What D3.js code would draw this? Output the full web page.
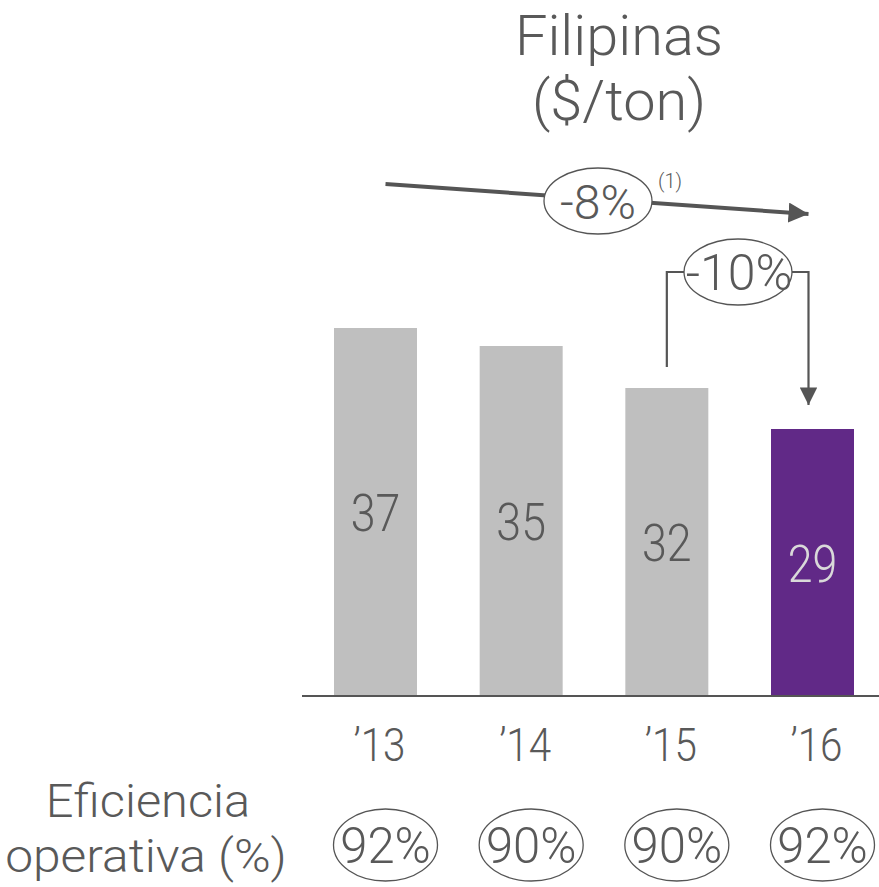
<!DOCTYPE html>
<html><head><meta charset="utf-8">
<script src="https://cdn.jsdelivr.net/npm/d3@7"></script>
<style>body{margin:0;background:#fff}svg{display:block}text{font-family:Roboto,"Open Sans",sans-serif;font-weight:300}</style>
</head><body>
<script>
const years = ["’13","’14","’15","’16"];
const barValues = [36.8, 35.0, 30.8, 26.7];
const barLabels = ["37","35","32","29"];
const efficiency = ["92%","90%","90%","92%"];
const titleLines = ["Filipinas","($/ton)"];
const changeTotal = "-8%";
const changeLast = "-10%";

const W=879,H=887, textCol="#595959", lineCol="#555555";
const svg=d3.select("body").append("svg").attr("width",W).attr("height",H);
const defs=svg.append("defs");
defs.append("marker").attr("id","ah").attr("viewBox","0 0 10 10").attr("refX",10).attr("refY",5)
 .attr("markerWidth",5).attr("markerHeight",5).attr("markerUnits","strokeWidth").attr("orient","auto")
 .append("path").attr("d","M0,0L10,5L0,10Z").attr("fill",lineCol);
defs.append("marker").attr("id","ah2").attr("viewBox","0 0 10 10").attr("refX",10).attr("refY",5)
 .attr("markerWidth",8).attr("markerHeight",8).attr("markerUnits","strokeWidth").attr("orient","auto")
 .append("path").attr("d","M0,0L10,5L0,10Z").attr("fill",lineCol);

const x=d3.scalePoint().domain(years).range([375.5,812.5]);
const y=d3.scaleLinear().domain([0,40]).range([696,296]);
const bw=83;

function txt(g,xp,yp,s,size,sx,fill,anchor){
  return g.append("text").attr("transform",`translate(${xp},${yp}) scale(${sx},1)`)
   .attr("text-anchor",anchor||"middle").attr("font-size",size).attr("fill",fill||textCol).text(s);
}

// title
txt(svg,619,55,titleLines[0],56,1.03);
txt(svg,619,120,titleLines[1],56,1.03);

// bars
years.forEach((yr,i)=>{
  const cx=x(yr);
  svg.append("rect").attr("x",cx-bw/2).attr("y",y(barValues[i])).attr("width",bw)
    .attr("height",y(0)-y(barValues[i])).attr("fill",i===3?"#612987":"#bfbfbf");
  txt(svg,cx,(y(barValues[i])+y(0))/2+19,barLabels[i],52,0.86,i===3?"#d9d9d9":textCol);
  txt(svg,cx+4,761,yr,47,0.86);
  svg.append("ellipse").attr("cx",cx+10).attr("cy",845).attr("rx",52).attr("ry",36)
    .attr("fill","none").attr("stroke",lineCol).attr("stroke-width",1.3);
  txt(svg,cx+10,863,efficiency[i],50,0.98);
});
// baseline
svg.append("line").attr("x1",302).attr("x2",W).attr("y1",y(0)).attr("y2",y(0)).attr("stroke",lineCol).attr("stroke-width",2);

// left label
txt(svg,148,817,"Eficiencia",46,1.06);
txt(svg,146,872,"operativa (%)",46,1.08);

// CAGR arrow
const ax1=x(years[0])+10, ax2=x(years[3])-4;
svg.append("line").attr("x1",ax1).attr("y1",184).attr("x2",ax2).attr("y2",214)
  .attr("stroke",lineCol).attr("stroke-width",4).attr("marker-end","url(#ah)");
svg.append("ellipse").attr("cx",598).attr("cy",201).attr("rx",54).attr("ry",33)
  .attr("fill","#fff").attr("stroke",lineCol).attr("stroke-width",1.3);
txt(svg,598,219,changeTotal,48,1);
txt(svg,670,188,"(1)",20,1);

// -10% bracket
const bx1=x(years[2]), bx2=x(years[3])-4;
svg.append("path").attr("d",`M${bx1},${y(barValues[2])-21}V272H${bx2}V${y(barValues[3])-24}`)
  .attr("fill","none").attr("stroke",lineCol).attr("stroke-width",2.2).attr("marker-end","url(#ah2)");
svg.append("ellipse").attr("cx",738).attr("cy",272).attr("rx",54).attr("ry",33)
  .attr("fill","#fff").attr("stroke",lineCol).attr("stroke-width",1.3);
txt(svg,739,290,changeLast,50,1);
</script>
</body></html>
